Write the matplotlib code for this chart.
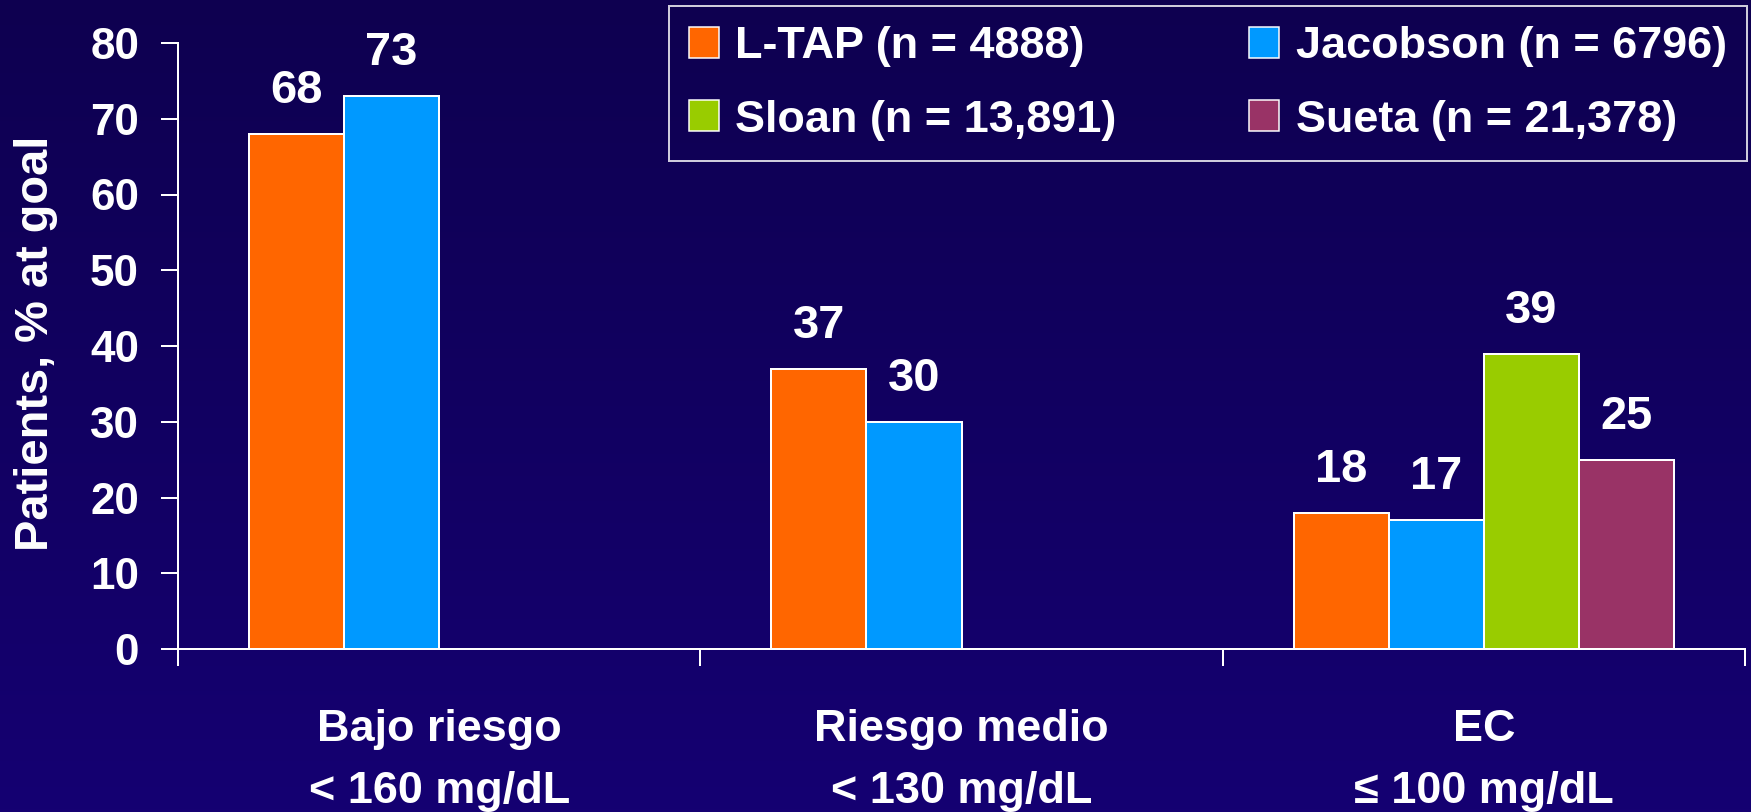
import numpy as np
import matplotlib
matplotlib.use("Agg")
import matplotlib.pyplot as plt
from matplotlib.colors import LinearSegmentedColormap

# ---- data ----
categories = ["Bajo riesgo\n< 160 mg/dL", "Riesgo medio\n< 130 mg/dL", "EC\n≤ 100 mg/dL"]
series_names = ["L-TAP (n = 4888)", "Jacobson (n = 6796)", "Sloan (n = 13,891)", "Sueta (n = 21,378)"]
ltap = [68, 37, 18]
jacobson = [73, 30, 17]
sloan = [None, None, 39]
sueta = [None, None, 25]
colors = ["#FF6600", "#0099FF", "#99CC00", "#993366"]
yticks = [0, 10, 20, 30, 40, 50, 60, 70, 80]

plt.rcParams['font.family'] = ['Liberation Sans', 'DejaVu Sans']
plt.rcParams['font.weight'] = 'bold'

DPI = 72
W, H = 1751, 812
fig = plt.figure(figsize=(W / DPI, H / DPI), dpi=DPI)

# background gradient
bg = fig.add_axes([0, 0, 1, 1], zorder=-10)
grad = np.linspace(0, 1, 256).reshape(-1, 1)
cmap = LinearSegmentedColormap.from_list("bg", ["#0e0050", "#150072"])
bg.imshow(grad, aspect='auto', cmap=cmap, extent=[0, 1, 0, 1], origin='upper')
bg.set_axis_off()

left, right, top, bottom = 178, 1745, 43, 649
ax = fig.add_axes([left / W, 1 - bottom / H, (right - left) / W, (bottom - top) / H])
ax.patch.set_alpha(0)

x = np.arange(len(categories))
bw = 0.182
all_series = [ltap, jacobson, sloan, sueta]
handles = []
for i, (vals, name, c) in enumerate(zip(all_series, series_names, colors)):
    xs, ys = [], []
    for xi, v in zip(x, vals):
        if v is not None:
            xs.append(xi + (i - 1.5) * bw)
            ys.append(v)
    bars = ax.bar(xs, ys, width=bw, color=c, edgecolor='white', linewidth=2, label=name, zorder=3)
    handles.append(bars)
    for b, v in zip(bars, ys):
        ax.annotate(str(v), (b.get_x() + b.get_width() / 2, v), xytext=(0, 31),
                    textcoords='offset pixels', ha='center', va='baseline',
                    color='white', fontsize=47, fontweight='bold')

ax.set_xlim(-0.5, 2.5)
ax.set_ylim(0, 80)
ax.set_yticks(yticks)
ax.tick_params(axis='y', colors='white', labelsize=44, length=17, width=2, pad=22)
ax.set_xticks(x)
ax.set_xticklabels(categories, fontsize=45, color='white', linespacing=1.66)
ax.tick_params(axis='x', length=0, pad=60)
ax.set_xticks([-0.5, 0.5, 1.5, 2.5], minor=True)
ax.tick_params(axis='x', which='minor', length=17, width=2, color='white')
for s in ['top', 'right']:
    ax.spines[s].set_visible(False)
for s in ['left', 'bottom']:
    ax.spines[s].set_color('white')
    ax.spines[s].set_linewidth(2)

fig.text(36 / W, 1 - 343 / H, "Patients, % at goal", rotation=90, ha='center', va='center',
         color='white', fontsize=47, fontweight='bold')

# legend filled row-wise: reorder for matplotlib's column-major filling
order = [0, 2, 1, 3]
leg = ax.legend([handles[k] for k in order], [series_names[k] for k in order],
                ncol=2, loc='upper right', bbox_to_anchor=(1747 / W, 1 - 6 / H),
                bbox_transform=fig.transFigure, fontsize=45, frameon=True, fancybox=False,
                handlelength=0.67, handleheight=0.69, handletextpad=0.36,
                columnspacing=2.95, labelspacing=0.72, borderpad=0.45, borderaxespad=0)
leg.get_frame().set_edgecolor('white')
leg.get_frame().set_linewidth(2)
leg.get_frame().set_facecolor('none')
for t in leg.get_texts():
    t.set_color('white')
for h in leg.legend_handles:
    h.set_linewidth(1.5)

fig.savefig("out.png", dpi=DPI)
